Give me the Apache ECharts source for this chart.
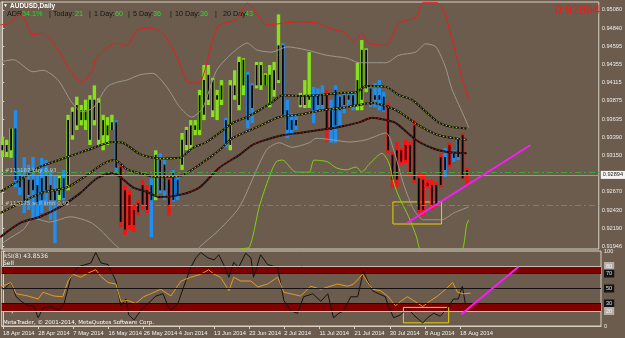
<!DOCTYPE html>
<html>
<head>
<meta charset="utf-8">
<script src="https://cdn.jsdelivr.net/npm/echarts@6/dist/echarts.min.js"></script>
<style>
html, body { margin: 0; padding: 0; background: #6b5c4d; }
#chart { width: 625px; height: 338px; }
</style>
</head>
<body>
<div id="chart"></div>
<script>
// AUDUSD daily, 18 Apr - 20 Aug 2014 (bar index 0 = 18 Apr)
const dateTicks = [0, 8, 16, 24, 32, 40, 48, 56, 64, 72, 80, 88, 96, 104]
const dateLabels = ['18 Apr 2014', '28 Apr 2014', '7 May 2014', '16 May 2014', '26 May 2014', '4 Jun 2014',
  '13 Jun 2014', '23 Jun 2014', '2 Jul 2014', '11 Jul 2014', '21 Jul 2014', '30 Jul 2014', '8 Aug 2014', '18 Aug 2014']
const priceTicks = [0.95080, 0.94840, 0.94595, 0.94355, 0.94115, 0.93875, 0.93635, 0.93390, 0.93150,
  0.92670, 0.92430, 0.92190, 0.91946]
const rsiTicks = [100, 80, 70, 50, 30, 20, 0]

const opens = [
  0.9322, 0.9320, 0.9322, 0.9351, 0.9289, 0.9285, 0.9263, 0.9283, 0.9276, 0.9256,
  0.9289, 0.9276, 0.9256, 0.9263, 0.9285, 0.9276, 0.9342, 0.9355, 0.9375, 0.9362,
  0.9389, 0.9362, 0.9385, 0.9342, 0.9355, 0.9349, 0.9359, 0.9300, 0.9269, 0.9223,
  0.9243, 0.9240, 0.9250, 0.9269, 0.9256, 0.9263, 0.9309, 0.9269, 0.9283, 0.9256,
  0.9283, 0.9303, 0.9329, 0.9329, 0.9349, 0.9349, 0.9369, 0.9389, 0.9415, 0.9389,
  0.9389, 0.9362, 0.9329, 0.9395, 0.9382, 0.9408, 0.9422, 0.9378, 0.9408, 0.9408,
  0.9422, 0.9382, 0.9402, 0.9415, 0.9461, 0.9375, 0.9362, 0.9355, 0.9382, 0.9382,
  0.9389, 0.9395, 0.9395, 0.9382, 0.9395, 0.9349, 0.9402, 0.9375, 0.9395, 0.9395,
  0.9382, 0.9382, 0.9389, 0.9455, 0.9404, 0.9389, 0.9389, 0.9393, 0.9382, 0.9316,
  0.9283, 0.9322, 0.9309, 0.9329, 0.9355, 0.9285, 0.9243, 0.9279, 0.9276, 0.9250,
  0.9276, 0.9313, 0.9303, 0.9312, 0.9313, 0.9342, 0.9296
]
const closes = [
  0.9329, 0.9329, 0.9351, 0.9283, 0.9273, 0.9256, 0.9283, 0.9269, 0.9250, 0.9285,
  0.9269, 0.9256, 0.9269, 0.9285, 0.9259, 0.9362, 0.9373, 0.9382, 0.9362, 0.9375,
  0.9336, 0.9389, 0.9336, 0.9362, 0.9342, 0.9359, 0.9299, 0.9227, 0.9217, 0.9263,
  0.9223, 0.9252, 0.9276, 0.9243, 0.9276, 0.9316, 0.9269, 0.9303, 0.9250, 0.9293,
  0.9263, 0.9336, 0.9349, 0.9355, 0.9355, 0.9395, 0.9415, 0.9422, 0.9375, 0.9395,
  0.9408, 0.9332, 0.9408, 0.9408, 0.9439, 0.9442, 0.9362, 0.9408, 0.9435, 0.9435,
  0.9408, 0.9422, 0.9428, 0.9461, 0.9369, 0.9349, 0.9349, 0.9362, 0.9395, 0.9395,
  0.9395, 0.9375, 0.9382, 0.9395, 0.9349, 0.9375, 0.9355, 0.9393, 0.9382, 0.9389,
  0.9395, 0.9415, 0.9455, 0.9404, 0.9382, 0.9395, 0.9395, 0.9375, 0.9322, 0.9283,
  0.9322, 0.9307, 0.9329, 0.9293, 0.9283, 0.9243, 0.9283, 0.9275, 0.9250, 0.9276,
  0.9313, 0.9296, 0.9329, 0.9318, 0.9336, 0.9285, 0.92894
]
const lows = [
  0.9313, 0.9313, 0.9312, 0.9273, 0.9263, 0.9239, 0.9243, 0.9230, 0.9230, 0.9239,
  0.9250, 0.9230, 0.9199, 0.9256, 0.9256, 0.9269, 0.9336, 0.9349, 0.9355, 0.9349,
  0.9329, 0.9355, 0.9329, 0.9322, 0.9329, 0.9349, 0.9293, 0.9220, 0.9210, 0.9217,
  0.9214, 0.9236, 0.9243, 0.9239, 0.9207, 0.9256, 0.9265, 0.9256, 0.9236, 0.9254,
  0.9256, 0.9296, 0.9322, 0.9322, 0.9342, 0.9342, 0.9362, 0.9382, 0.9366, 0.9362,
  0.9382, 0.9326, 0.9322, 0.9389, 0.9375, 0.9395, 0.9351, 0.9358, 0.9404, 0.9402,
  0.9408, 0.9379, 0.9393, 0.9411, 0.9366, 0.9338, 0.9342, 0.9349, 0.9379, 0.9378,
  0.9378, 0.9358, 0.9373, 0.9375, 0.9333, 0.9332, 0.9332, 0.9355, 0.9371, 0.9379,
  0.9375, 0.9375, 0.9375, 0.9399, 0.9379, 0.9379, 0.9375, 0.9373, 0.9318, 0.9273,
  0.9273, 0.9303, 0.9305, 0.9289, 0.9279, 0.9239, 0.9236, 0.9272, 0.9243, 0.9247,
  0.9273, 0.9287, 0.9300, 0.9307, 0.9309, 0.9283, 0.9276
]
const highs = [
  0.9340, 0.9336, 0.9351, 0.9375, 0.9296, 0.9313, 0.9303, 0.9313, 0.9289, 0.9312,
  0.9309, 0.9296, 0.9289, 0.9289, 0.9296, 0.9369, 0.9379, 0.9393, 0.9382, 0.9389,
  0.9395, 0.9408, 0.9391, 0.9369, 0.9366, 0.9369, 0.9362, 0.9303, 0.9276, 0.9269,
  0.9250, 0.9256, 0.9283, 0.9276, 0.9285, 0.9322, 0.9318, 0.9313, 0.9289, 0.9296,
  0.9287, 0.9345, 0.9353, 0.9362, 0.9362, 0.9402, 0.9435, 0.9435, 0.9418, 0.9402,
  0.9415, 0.9365, 0.9415, 0.9428, 0.9446, 0.9444, 0.9426, 0.9411, 0.9439, 0.9439,
  0.9424, 0.9435, 0.9439, 0.9502, 0.9464, 0.9389, 0.9371, 0.9369, 0.9398, 0.9415,
  0.9452, 0.9406, 0.9404, 0.9408, 0.9402, 0.9389, 0.9408, 0.9395, 0.9398, 0.9399,
  0.9398, 0.9438, 0.9468, 0.9457, 0.9408, 0.9411, 0.9415, 0.9399, 0.9385, 0.9320,
  0.9333, 0.9325, 0.9336, 0.9333, 0.9362, 0.9292, 0.9292, 0.9283, 0.9283, 0.9280,
  0.9318, 0.9325, 0.9332, 0.9322, 0.9340, 0.9345, 0.9299
]
// trend state painted behind each bar: g = up, b = pullback, r = down
const barState = [
  'g', 'g', 'g', 'b', 'b', 'b', 'b', 'b', 'b', 'b',
  'b', 'b', 'b', 'g', 'b', 'g', 'g', 'g', 'g', 'g',
  'g', 'g', 'g', 'g', 'g', 'g', 'b', 'r', 'r', 'r',
  'r', 'r', 'r', 'r', 'b', 'g', 'b', 'b', 'r', 'b',
  'b', 'g', 'g', 'g', 'g', 'g', 'g', 'g', 'g', 'g',
  'g', 'b', 'g', 'g', 'g', 'g', 'b', 'b', 'g', 'g',
  'g', 'g', 'g', 'g', 'b', 'b', 'b', 'b', 'g', 'g',
  'g', 'b', 'b', 'b', 'r', 'b', 'b', 'b', 'b', 'b',
  'b', 'g', 'g', 'g', 'b', 'b', 'b', 'b', 'r', 'r',
  'r', 'r', 'r', 'r', 'r', 'r', 'r', 'r', 'r', 'r',
  'r', 'b', 'r', 'b', 'b', 'r', 'r'
]

// envelopes and moving averages, [bar index, price]
const redBand = [[-0.5, 0.9488], [2, 0.9491], [3.6, 0.9502], [5, 0.9497], [7, 0.9475], [9.3, 0.9477], [12.7, 0.9455],
  [15.9, 0.9424], [18.2, 0.9412], [20.5, 0.9428], [21.6, 0.9446], [26.1, 0.9464], [28.4, 0.9461], [30.7, 0.9481],
  [33.6, 0.9484], [36.6, 0.9477], [39.8, 0.9446], [42.7, 0.9411], [45, 0.9412], [48, 0.9468], [49.5, 0.9488],
  [53.4, 0.9495], [55.9, 0.9517], [60.5, 0.9488], [67, 0.9492], [71.6, 0.9491], [74.5, 0.9484], [78.4, 0.9477],
  [80.2, 0.9465], [82, 0.9477], [83.6, 0.9464], [87.5, 0.9461], [90.5, 0.9491], [94.3, 0.9498], [96.1, 0.9518],
  [98.9, 0.9518], [100.2, 0.9512], [101.4, 0.9495], [103.4, 0.9451], [104.8, 0.9419], [106.4, 0.9389]]
const grayUpper = [[-0.5, 0.9439], [2.5, 0.9442], [7, 0.9426], [9.3, 0.9428], [12.7, 0.9415], [15.9, 0.9385],
  [18.2, 0.9373], [20.7, 0.9378], [23.9, 0.9406], [26.1, 0.9412], [28.4, 0.9415], [31.4, 0.9422], [34.3, 0.9424],
  [37.5, 0.9406], [40.5, 0.9379], [43.2, 0.9366], [45.7, 0.9378], [48.9, 0.9428], [52.5, 0.9451], [55.9, 0.9464],
  [58, 0.9455], [61.4, 0.9452], [65, 0.9459], [69.3, 0.9455], [73.9, 0.9448], [78.6, 0.9444], [81.4, 0.9438],
  [87.5, 0.9438], [90.5, 0.9448], [94.3, 0.9452], [96.6, 0.9463], [98.9, 0.9459], [101.1, 0.9432], [102.5, 0.9404],
  [105.7, 0.9362], [106.4, 0.9352]]
const grayLower = [[-0.5, 0.9197], [1.8, 0.9206], [4.8, 0.9217], [7, 0.9232], [10.9, 0.9227], [15.5, 0.9234],
  [20, 0.9227], [22.3, 0.9217], [25.7, 0.9197], [29.1, 0.9183], [38.2, 0.9182], [43.9, 0.9187], [45, 0.9194],
  [49.5, 0.9217], [54.1, 0.9247], [60.2, 0.9322], [63.2, 0.9332], [66.1, 0.9326], [70, 0.9332], [71.6, 0.9338],
  [75.2, 0.9336], [79.1, 0.9333], [83, 0.9336], [87.5, 0.9345], [89.3, 0.9322], [91.6, 0.9276], [93.9, 0.9243],
  [96.1, 0.9230], [100.2, 0.9230], [103, 0.9239], [106.4, 0.9247]]
const limeBand = [[49.5, 0.9170], [54.3, 0.9191], [56.4, 0.9194], [58.6, 0.9247], [60.9, 0.9287], [62.5, 0.9307],
  [63.9, 0.9309], [67, 0.9293], [70, 0.9293], [71.1, 0.9309], [74.1, 0.9307], [76.1, 0.9299], [78.4, 0.9296],
  [80.7, 0.9300], [82, 0.9293], [83.6, 0.9303], [86.6, 0.9318], [88.2, 0.9305], [89.3, 0.9279], [90.5, 0.9260],
  [92.7, 0.9234], [94.5, 0.9207], [95.2, 0.9191], [97.5, 0.9170], [102, 0.9165], [105, 0.9191], [105.9, 0.9223],
  [106.4, 0.9230]]
const maFast = [[-0.5, 0.9267], [4.1, 0.9283], [8.6, 0.9300], [14.8, 0.9313], [19.3, 0.9322], [25.2, 0.9333],
  [27.5, 0.9332], [31.4, 0.9317], [35.9, 0.9311], [40.5, 0.9312], [43.4, 0.9325], [46.6, 0.9333], [49.5, 0.9345],
  [52.5, 0.9358], [55.7, 0.9366], [58.6, 0.9375], [61.6, 0.9386], [63.9, 0.9395], [67.7, 0.9394], [72.3, 0.9395],
  [76.8, 0.9398], [80.7, 0.9399], [83, 0.9407], [87.5, 0.9406], [90.5, 0.9395], [93.4, 0.9389], [96.6, 0.9373],
  [99.5, 0.9359], [102.5, 0.9353], [105.9, 0.9351]]
const maMid = [[-0.5, 0.9239], [4.1, 0.9252], [8.6, 0.9265], [14.8, 0.9273], [19.3, 0.9289], [23, 0.9304],
  [25.7, 0.9309], [28.4, 0.9297], [33, 0.9289], [35.9, 0.9287], [40.5, 0.9288], [45, 0.9303], [49.5, 0.9322],
  [52.5, 0.9338], [58.6, 0.9354], [63.2, 0.9366], [67.7, 0.9369], [72.9, 0.9375], [78.4, 0.9379], [81.4, 0.9382],
  [84.3, 0.9385], [88.2, 0.9379], [90.5, 0.9373], [95, 0.9355], [99.5, 0.9342], [105.9, 0.9336]]
const maSlow = [[-0.5, 0.9207], [4.1, 0.9226], [8.6, 0.9234], [13.2, 0.9247], [17.7, 0.9265], [21.6, 0.9285],
  [25.2, 0.9292], [26.8, 0.9287], [29.8, 0.9273], [33, 0.9267], [35.9, 0.9260], [40.5, 0.9263], [45, 0.9273],
  [49.5, 0.9299], [54.1, 0.9316], [57, 0.9329], [60.2, 0.9336], [63.9, 0.9342], [67.7, 0.9345], [72.3, 0.9349],
  [76.8, 0.9353], [81.4, 0.9359], [84.3, 0.9365], [87.5, 0.9362], [89.8, 0.9358], [94.3, 0.9336], [98, 0.9325],
  [101.1, 0.9320], [105.9, 0.9318]]

// lower window
const rsiFast = [[-0.5, 53], [0.2, 49], [1.8, 58], [3, 39], [4.1, 33], [5.7, 27], [7, 27], [8, 11], [9.1, 24],
  [10.9, 26], [12.7, 21], [13.9, 30], [15.5, 66], [17, 79], [18.9, 82], [20, 84], [21.1, 98], [22.3, 84], [23.9, 82],
  [25.7, 60], [26.8, 27], [28, 36], [28.6, 15], [29.8, 8], [31.4, 21], [33, 30], [34.8, 40], [36.4, 43], [37.5, 27],
  [38.2, 21], [39.8, 30], [41.1, 52], [42.7, 78], [43.9, 91], [45, 98], [46.6, 91], [48, 88], [49.1, 95], [50.2, 82],
  [51.4, 65], [52.5, 85], [53.6, 78], [55.2, 97], [56.4, 91], [57, 65], [58.6, 95], [60.2, 82], [62.5, 78],
  [63.9, 34], [65.5, 20], [67, 17], [68.4, 39], [70.5, 43], [72.3, 33], [73.9, 43], [75.2, 11], [76.4, 17],
  [77.5, 20], [79.1, 39], [80.7, 39], [82, 73], [83, 60], [84.1, 47], [85.5, 43], [87, 39], [87.7, 26], [88.9, 11],
  [90.5, 15], [92, 24], [93.4, 15], [95.5, 4], [96.6, 11], [98, 17], [99.5, 13], [101.1, 24], [102.5, 36],
  [103.6, 36], [104.5, 53], [105.2, 30], [106.4, 30]]
const rsi8 = [[-0.5, 52], [1.8, 58], [3, 43], [5.7, 40], [8, 36], [9.1, 45], [11.6, 40], [13.6, 39], [14.8, 60],
  [15.9, 69], [17.7, 65], [19.5, 71], [21.1, 75], [22.3, 66], [23.9, 58], [25.7, 56], [26.8, 33], [28.4, 34],
  [30.2, 30], [32, 39], [33.6, 43], [35.9, 49], [38.2, 40], [40.5, 60], [42.7, 65], [45, 69], [46.8, 75], [48, 69],
  [49.5, 65], [51.4, 47], [52.5, 65], [54.1, 60], [56.4, 60], [58, 52], [60.2, 56], [62.5, 65], [63.9, 45],
  [65.5, 43], [67.7, 40], [70, 53], [72.3, 49], [73.9, 52], [76.1, 56], [78.4, 53], [79.8, 56], [81.8, 69], [83, 58],
  [84.1, 49], [85.9, 47], [87.5, 40], [89.3, 27], [90.5, 33], [92, 39], [93.4, 34], [95.5, 26], [97.3, 34],
  [98.9, 40], [100.7, 49], [102.3, 58], [103.4, 45], [104.8, 43], [106.4, 43.85]]

const lastPrice = 0.92894
const orderLevels = [0.92929, 0.92487]

const stateColor = { g: '#86e01c', b: '#1e8ff0', r: '#ff1010' }
const frame = '#d9d2c4'

const chart = echarts.init(document.getElementById('chart'))

function line(data, color, width, extra) {
  return Object.assign({
    type: 'line', data: data, symbol: 'none', smooth: 0.25, silent: true, clip: true,
    xAxisIndex: 0, yAxisIndex: 0,
    lineStyle: { color: color, width: width }
  }, extra || {})
}

const hline = (v, color, type) => ({ yAxis: v, lineStyle: { color: color, width: 1, type: type } })

const option = {
  backgroundColor: '#6b5c4d',
  animation: false,
  grid: [
    { left: 1, right: 24, top: 2, height: 247, show: true, borderColor: frame, borderWidth: 1 },
    { left: 1, right: 24, top: 251, height: 75, show: true, borderColor: frame, borderWidth: 1 }
  ],
  xAxis: [
    { type: 'value', gridIndex: 0, min: -0.3, max: 136.06, axisLabel: { show: false }, axisTick: { show: false },
      axisLine: { show: false }, splitLine: { show: false } },
    { type: 'value', gridIndex: 1, min: -0.3, max: 136.06, splitLine: { show: false },
      axisLine: { show: true, lineStyle: { color: frame } },
      axisTick: { show: true, customValues: dateTicks, length: 3, lineStyle: { color: frame } },
      axisLabel: {
        customValues: dateTicks, align: 'left', margin: 4, color: '#f2f2f2', fontSize: 5.8,
        fontFamily: 'Liberation Sans', hideOverlap: false, showMinLabel: true,
        formatter: v => dateLabels[dateTicks.indexOf(v)]
      }
    }
  ],
  yAxis: [
    { type: 'value', gridIndex: 0, position: 'right', min: 0.91913, max: 0.95184, splitLine: { show: false },
      axisLine: { show: true, lineStyle: { color: frame } },
      axisTick: { show: true, customValues: priceTicks, length: 2, lineStyle: { color: frame } },
      axisLabel: { customValues: priceTicks, formatter: v => v.toFixed(5), color: '#eeeeee', fontSize: 5.6,
        margin: 3, fontFamily: 'Liberation Sans' }
    },
    { type: 'value', gridIndex: 1, position: 'right', min: 0, max: 100, splitLine: { show: false },
      axisLine: { show: true, lineStyle: { color: frame } },
      axisTick: { show: true, customValues: rsiTicks, length: 2, lineStyle: { color: frame } },
      axisLabel: {
        customValues: rsiTicks, margin: 3, fontSize: 5.6, fontFamily: 'Liberation Sans',
        formatter: v => (v === 80 || v === 20) ? '{g|' + v + '}' : ((v === 70 || v === 50 || v === 30) ? '{k|' + v + '}' : '{p|' + v + '}'),
        rich: {
          g: { backgroundColor: '#b4b0a8', color: '#f4f4f4', padding: [1, 2], fontSize: 5.6 },
          k: { backgroundColor: '#151515', color: '#e0e0e0', padding: [1, 2], fontSize: 5.6 },
          p: { color: '#eeeeee', fontSize: 5.6 }
        }
      }
    }
  ],
  series: [
    line(grayUpper, '#9d978d', 1),
    line(grayLower, '#9d978d', 1),
    line(redBand, '#ee1c1c', 1),
    line(limeBand, '#82d010', 1, {
      markLine: {
        silent: true, symbol: ['none', 'none'], label: { show: false }, precision: 6,
        data: [
          hline(orderLevels[0], '#3fa83a', [6, 3, 2, 3]),
          hline(orderLevels[1], '#3fa83a', [6, 3, 2, 3]),
          Object.assign(hline(lastPrice, '#9a9a9a', 'solid'), {
            label: { show: true, position: 'end', distance: 2, formatter: lastPrice.toFixed(5),
              backgroundColor: '#f4f4f4', color: '#222', fontSize: 5.6, padding: [1, 2], fontFamily: 'Liberation Sans' }
          }),
          [{ coord: [92.3, 0.92257], lineStyle: { color: '#ff18ff', width: 2, type: 'solid' } }, { coord: [120.5, 0.93290] }]
        ]
      },
      markArea: {
        silent: true,
        itemStyle: { color: 'rgba(0,0,0,0)', borderColor: '#e6d20a', borderWidth: 1 },
        data: [[{ coord: [89.1, 0.92536] }, { coord: [100.2, 0.92244] }]]
      }
    }),
    line(maSlow, '#161010', 2),
    line(maSlow, '#b01818', 1, { lineStyle: { color: '#b01818', width: 1, type: [1.5, 2] } }),
    line(maMid, '#161410', 2),
    line(maMid, '#d8c818', 1, { lineStyle: { color: '#d8c818', width: 1, type: [1.5, 2] } }),
    line(maFast, '#121410', 2),
    line(maFast, '#a8c828', 1, { lineStyle: { color: '#a8c828', width: 1, type: [1.5, 2] } }),
    {
      type: 'custom', xAxisIndex: 0, yAxisIndex: 0, clip: true, silent: true,
      data: opens.map((o, i) => [i, o, closes[i], lows[i], highs[i]]),
      encode: { x: 0, y: [1, 2, 3, 4] },
      renderItem: (params, api) => {
        const i = api.value(0)
        const hi = api.coord([i, api.value(4)])
        const lo = api.coord([i, api.value(3)])
        const op = api.coord([i, api.value(1)])
        const cl = api.coord([i, api.value(2)])
        const bodyTop = Math.min(op[1], cl[1])
        return {
          type: 'group',
          children: [
            { type: 'rect', shape: { x: hi[0] - 1.7, y: hi[1], width: 3.4, height: Math.max(lo[1] - hi[1], 1) },
              style: { fill: stateColor[barState[params.dataIndex]] } },
            { type: 'rect', shape: { x: hi[0] - 0.9, y: bodyTop, width: 1.8, height: Math.max(Math.abs(op[1] - cl[1]), 1) },
              style: { fill: '#050505' } }
          ]
        }
      }
    },
    line(rsiFast, '#141414', 1, { xAxisIndex: 1, yAxisIndex: 1, smooth: false }),
    line(rsi8, '#e89a22', 1, {
      xAxisIndex: 1, yAxisIndex: 1, smooth: false,
      markArea: {
        silent: true, itemStyle: { color: '#7e0000' },
        data: [[{ yAxis: 70 }, { yAxis: 80 }], [{ yAxis: 20 }, { yAxis: 30 }],
          [{ coord: [91.1, 24.8], itemStyle: { color: 'rgba(0,0,0,0)', borderColor: '#e6d20a', borderWidth: 1 } }, { coord: [101.4, 4.2] }]]
      },
      markLine: {
        silent: true, symbol: ['none', 'none'], label: { show: false }, precision: 4,
        data: [
          hline(80, '#c4c0b8', 'solid'), hline(20, '#c4c0b8', 'solid'),
          hline(70, '#111', 'solid'), hline(50, '#111', 'solid'), hline(30, '#111', 'solid'),
          [{ coord: [104.3, 15.8], lineStyle: { color: '#ff18ff', width: 2, type: 'solid' } }, { coord: [117.3, 79] }]
        ]
      }
    })
  ],
  graphic: [
    { type: 'text', x: 3, y: 6, style: { text: '▼', fill: '#ffffff', fontSize: 5, verticalAlign: 'middle' } },
    { type: 'text', x: 10, y: 6, style: { text: 'AUDUSD,Daily', fill: '#ffffff', fontSize: 6.5, fontWeight: 'bold',
      fontFamily: 'Liberation Sans', verticalAlign: 'middle' } },
    ...[['ADR:', 7, 0], ['54.1%', 22, 1], ['|', 49, 0], ['Today:', 53, 0], ['21', 75, 1], ['|', 89, 0],
      ['1 Day:', 94, 0], ['60', 115, 1], ['|', 128, 0], ['5 Day:', 133, 0], ['36', 153, 1], ['|', 170, 0],
      ['10 Day:', 175, 0], ['36', 200, 1], ['|', 215, 0], ['20 Day:', 223, 0], ['43', 245, 1]].map(t => ({
      type: 'text', x: t[1], y: 14.5,
      style: { text: t[0], fill: t[2] ? '#24e024' : '#141414', fontSize: 7.2, fontFamily: 'Liberation Sans',
        verticalAlign: 'middle' }
    })),
    { type: 'text', x: 600, y: 11, style: { text: '0.92894', fill: '#ff1414', fontSize: 12.5, fontFamily: 'Liberation Sans',
      align: 'right', verticalAlign: 'middle' } },
    { type: 'text', x: 5, y: 171, z: 10, style: { text: '#113187 buy 0.93', fill: '#c8c4bc', fontSize: 5.5,
      fontFamily: 'DejaVu Sans', verticalAlign: 'middle' } },
    { type: 'text', x: 5, y: 204, z: 10, style: { text: '#113175 sell limit 0.92', fill: '#c8c4bc', fontSize: 5.5,
      fontFamily: 'DejaVu Sans', verticalAlign: 'middle' } },
    { type: 'text', x: 3, y: 256, style: { text: 'RSI(8) 43.8536', fill: '#eeeeee', fontSize: 6, fontFamily: 'DejaVu Sans',
      verticalAlign: 'middle' } },
    { type: 'text', x: 3, y: 263, style: { text: 'Sell', fill: '#ffffff', fontSize: 6, fontFamily: 'DejaVu Sans',
      verticalAlign: 'middle' } },
    { type: 'text', x: 3, y: 310, style: { text: 'Buy', fill: '#ffffff', fontSize: 6, fontFamily: 'DejaVu Sans',
      verticalAlign: 'middle' } },
    { type: 'text', x: 3, y: 322.5, style: { text: 'MetaTrader, © 2001-2014, MetaQuotes Software Corp.', fill: '#ffffff',
      fontSize: 5.5, fontFamily: 'DejaVu Sans', verticalAlign: 'middle' } }
  ]
}

chart.setOption(option)
</script>
</body>
</html>
